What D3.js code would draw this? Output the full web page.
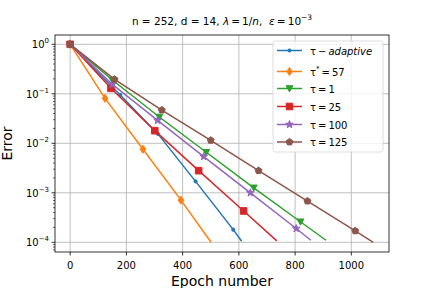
<!DOCTYPE html>
<html>
<head>
<meta charset="utf-8">
<script src="https://cdn.jsdelivr.net/npm/d3@7"></script>
<style>
  body { margin: 0; background: #fff; }
  svg { font-family: "DejaVu Sans", sans-serif; }
</style>
</head>
<body>
<div id="chart"></div>
<script>
// data (epoch, error); last point of each series has no marker
var adaptiveX = [0, 178, 312, 446, 580, 610];
var adaptiveY = [1, 0.095, 0.0155, 0.0017, 0.00018, 0.000105];
var optX = [0, 124, 259, 394, 501];
var optY = [1, 0.081, 0.0076, 0.00071, 0.0001];
var tau1X = [0, 150, 317, 484, 653, 819, 910];
var tau1Y = [1, 0.19, 0.034, 0.0066, 0.00126, 0.00026, 0.00011];
var tau25X = [0, 145, 301, 457, 617, 735];
var tau25Y = [1, 0.129, 0.018, 0.0028, 0.00043, 0.000107];
var tau100X = [0, 150, 311, 475, 641, 804, 856];
var tau100Y = [1, 0.155, 0.029, 0.0054, 0.001, 0.00019, 0.00011];
var tau125X = [0, 158, 326, 500, 670, 844, 1014, 1078];
var tau125Y = [1, 0.195, 0.047, 0.0115, 0.0028, 0.00068, 0.00017, 0.0001];
var xTicks = [0, 200, 400, 600, 800, 1000];
var yTicks = [-4, -3, -2, -1, 0];

var colors = ["#1f77b4", "#ff7f0e", "#2ca02c", "#d62728", "#9467bd", "#8c564b"];

// custom marker shapes, sizes in px
function markerPath(kind) {
  var p = d3.path();
  if (kind == "dot") {
    p.arc(0, 0, 1.6, 0, 2 * Math.PI);
  } else if (kind == "thin_diamond") {
    p.moveTo(0, -4); p.lineTo(2.8, 0); p.lineTo(0, 4); p.lineTo(-2.8, 0); p.closePath();
  } else if (kind == "tri_down") {
    p.moveTo(-3.4, -2.8); p.lineTo(3.4, -2.8); p.lineTo(0, 3.4); p.closePath();
  } else if (kind == "square") {
    p.rect(-3.3, -3.3, 6.6, 6.6);
  } else if (kind == "star") {
    for (var i = 0; i < 10; i++) {
      var r = i % 2 == 0 ? 4 : 1.7;
      var a = -Math.PI / 2 + i * Math.PI / 5;
      if (i == 0) p.moveTo(r * Math.cos(a), r * Math.sin(a));
      else p.lineTo(r * Math.cos(a), r * Math.sin(a));
    }
    p.closePath();
  } else if (kind == "pentagon") {
    for (var j = 0; j < 5; j++) {
      var b = -Math.PI / 2 + j * 2 * Math.PI / 5;
      if (j == 0) p.moveTo(3.6 * Math.cos(b), 3.6 * Math.sin(b));
      else p.lineTo(3.6 * Math.cos(b), 3.6 * Math.sin(b));
    }
    p.closePath();
  }
  return p.toString();
}

var series = [
  {xs: adaptiveX, ys: adaptiveY, marker: "dot"},
  {xs: optX, ys: optY, marker: "thin_diamond"},
  {xs: tau1X, ys: tau1Y, marker: "tri_down"},
  {xs: tau25X, ys: tau25Y, marker: "square"},
  {xs: tau100X, ys: tau100Y, marker: "star"},
  {xs: tau125X, ys: tau125Y, marker: "pentagon"}
];

var W = 432, H = 288;
var margin = {left: 55, right: 43, top: 35, bottom: 36};
var x0 = margin.left, x1 = W - margin.right, y0 = margin.top, y1 = H - margin.bottom;

var svg = d3.select("#chart").append("svg")
  .attr("width", W).attr("height", H);

var x = d3.scaleLinear().domain([-54, 1134]).range([x0, x1]);
var y = d3.scaleLog().domain([Math.pow(10, -4.196), Math.pow(10, 0.188)]).range([y1, y0]);

// grid
var grid = svg.append("g").attr("stroke", "#b0b0b0").attr("stroke-width", 0.8);
xTicks.forEach(function(t) {
  grid.append("line").attr("x1", x(t)).attr("x2", x(t)).attr("y1", y0).attr("y2", y1);
});
yTicks.forEach(function(e) {
  grid.append("line").attr("x1", x0).attr("x2", x1)
    .attr("y1", y(Math.pow(10, e))).attr("y2", y(Math.pow(10, e)));
});

// clip so lines stay inside the axes
svg.append("defs").append("clipPath").attr("id", "clip")
  .append("rect").attr("x", x0).attr("y", y0).attr("width", x1 - x0).attr("height", y1 - y0);

var plot = svg.append("g").attr("clip-path", "url(#clip)");

var line = d3.line()
  .x(function(d) { return x(d[0]); })
  .y(function(d) { return y(d[1]); });

series.forEach(function(s, i) {
  var pts = s.xs.map(function(v, k) { return [v, s.ys[k]]; });
  plot.append("path")
    .attr("d", line(pts))
    .attr("fill", "none")
    .attr("stroke", colors[i])
    .attr("stroke-width", 1.5);
  plot.selectAll(".m" + i)
    .data(pts.slice(0, pts.length - 1))
    .enter().append("path")
      .attr("d", markerPath(s.marker))
      .attr("transform", function(d) { return "translate(" + x(d[0]) + "," + y(d[1]) + ")"; })
      .attr("fill", colors[i])
      .attr("stroke", colors[i])
      .attr("stroke-width", 1);
});

// spines
svg.append("rect").attr("x", x0).attr("y", y0).attr("width", x1 - x0).attr("height", y1 - y0)
  .attr("fill", "none").attr("stroke", "#000").attr("stroke-width", 0.8);

// x ticks
var xAxis = svg.append("g");
xTicks.forEach(function(t) {
  xAxis.append("line").attr("x1", x(t)).attr("x2", x(t)).attr("y1", y1).attr("y2", y1 + 3.5)
    .attr("stroke", "#000").attr("stroke-width", 0.8);
  xAxis.append("text").attr("x", x(t)).attr("y", y1 + 17)
    .attr("text-anchor", "middle").attr("font-size", 10).text(t);
});

// y ticks, major and minor
var yAxis = svg.append("g");
yTicks.forEach(function(e) {
  var yy = y(Math.pow(10, e));
  yAxis.append("line").attr("x1", x0 - 3.5).attr("x2", x0).attr("y1", yy).attr("y2", yy)
    .attr("stroke", "#000").attr("stroke-width", 0.8);
  var lab = yAxis.append("text").attr("x", x0 - 6).attr("y", yy + 4)
    .attr("text-anchor", "end").attr("font-size", 10);
  lab.append("tspan").text("10");
  lab.append("tspan").attr("dy", -5).attr("font-size", 7).text(e == 0 ? "0" : "\u2212" + (-e));
});
for (var e = -5; e <= 0; e++) {
  for (var m = 2; m <= 9; m++) {
    var v = m * Math.pow(10, e);
    if (v < y.domain()[0] || v > y.domain()[1]) continue;
    yAxis.append("line").attr("x1", x0 - 2).attr("x2", x0).attr("y1", y(v)).attr("y2", y(v))
      .attr("stroke", "#000").attr("stroke-width", 0.6);
  }
}

// axis labels
svg.append("text").attr("x", (x0 + x1) / 2).attr("y", y1 + 34)
  .attr("text-anchor", "middle").attr("font-size", 14).text("Epoch number");
svg.append("text").attr("transform", "translate(12," + ((y0 + y1) / 2) + ") rotate(-90)")
  .attr("text-anchor", "middle").attr("font-size", 14).text("Error");

// title
var title = svg.append("text").attr("x", (x0 + x1) / 2).attr("y", 25)
  .attr("text-anchor", "middle").attr("font-size", 10.5);
title.append("tspan").text("n = 252, d = 14, ");
title.append("tspan").attr("font-style", "italic").text("\u03bb");
title.append("tspan").text("\u2009=\u20091/");
title.append("tspan").attr("font-style", "italic").text("n");
title.append("tspan").text(",\u00a0\u00a0");
title.append("tspan").attr("font-style", "italic").text("\u03b5");
title.append("tspan").text("\u2009=\u200910");
title.append("tspan").attr("dy", -5).attr("font-size", 7.5).text("\u22123");

// legend
var legend = svg.append("g");
legend.append("rect").attr("x", 273).attr("y", 41).attr("width", 110).attr("height", 111)
  .attr("rx", 2).attr("fill", "#fff").attr("fill-opacity", 0.8)
  .attr("stroke", "#d6d6d6").attr("stroke-width", 0.8);
var legendY = [50.5, 71.5, 88.5, 106.5, 124.5, 142];
series.forEach(function(s, i) {
  var ly = legendY[i];
  legend.append("line").attr("x1", 277).attr("x2", 302).attr("y1", ly).attr("y2", ly)
    .attr("stroke", colors[i]).attr("stroke-width", 1.5);
  legend.append("path").attr("d", markerPath(s.marker))
    .attr("transform", "translate(289.5," + ly + ")")
    .attr("fill", colors[i]).attr("stroke", colors[i]).attr("stroke-width", 1);
  var t = legend.append("text").attr("x", 310).attr("y", ly + 4).attr("font-size", 10);
  if (i == 0) {
    t.append("tspan").text("\u03c4\u2009\u2212\u2009");
    t.append("tspan").attr("font-style", "italic").text("adaptive");
  } else if (i == 1) {
    t.append("tspan").text("\u03c4");
    t.append("tspan").attr("dy", -5).attr("font-size", 7).text("*");
    t.append("tspan").attr("dy", 5).text("\u2009=\u200957");
  } else {
    var vals = ["", "", "1", "25", "100", "125"];
    t.append("tspan").text("\u03c4\u2009=\u2009" + vals[i]);
  }
});
</script>
</body>
</html>
